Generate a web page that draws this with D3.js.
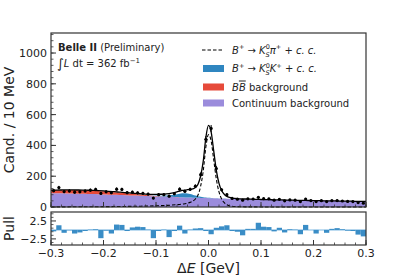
<!DOCTYPE html>
<html>
<head>
<meta charset="utf-8">
<script src="https://cdnjs.cloudflare.com/ajax/libs/d3/7.8.5/d3.min.js"></script>
<style>
  body { margin: 0; background: #fff; }
  text { font-family: "DejaVu Sans", sans-serif; fill: #222; }
</style>
</head>
<body>
<div id="chart"></div>
<script>
// bin centres (10 MeV bins) and data counts
var binCenters = [-0.295,-0.285,-0.275,-0.265,-0.255,-0.245,-0.235,-0.225,-0.215,-0.205,
  -0.195,-0.185,-0.175,-0.165,-0.155,-0.145,-0.135,-0.125,-0.115,-0.105,
  -0.095,-0.085,-0.075,-0.065,-0.055,-0.045,-0.035,-0.025,-0.015,-0.005,
  0.005,0.015,0.025,0.035,0.045,0.055,0.065,0.075,0.085,0.095,
  0.105,0.115,0.125,0.135,0.145,0.155,0.165,0.175,0.185,0.195,
  0.205,0.215,0.225,0.235,0.245,0.255,0.265,0.275,0.285,0.295];
var counts = [106,126,100,104,96,99,104,109,114,88,
  99,93,116,114,93,96,92,89,84,58,
  80,80,70,86,116,102,115,135,210,440,
  510,250,112,80,56,51,44,53,52,63,
  54,53,44,50,40,46,44,35,52,42,
  35,41,35,41,42,39,36,35,29,25];
var pulls = [-0.4,1.3,-0.8,-0.1,-1.0,-0.7,-0.3,0.1,0.2,-2.3,
  -0.2,-1.0,1.5,1.4,-0.3,0.7,0.9,0.8,0.1,-2.3,
  -0.3,0.1,-2.0,-0.3,1.2,-1.0,0.1,0.4,0.5,-0.3,
  -1.2,0.6,1.0,1.3,-0.3,-0.5,-1.5,0.3,0.3,2.0,
  0.9,0.8,-0.4,0.6,-0.7,0.2,0.1,-1.2,1.4,0.0,
  -1.0,0.0,-0.8,0.3,0.5,0.2,-0.2,-0.3,-1.3,-1.8];

// fit components sampled along Delta E
var curveX = [-0.30,-0.29,-0.28,-0.27,-0.26,-0.25,-0.24,-0.23,-0.22,-0.21,-0.20,-0.19,-0.18,-0.17,-0.16,-0.15,
  -0.14,-0.13,-0.12,-0.11,-0.10,-0.09,-0.08,-0.07,-0.06,-0.055,-0.05,-0.045,-0.04,-0.035,-0.03,-0.025,
  -0.02,-0.015,-0.01,-0.005,0,0.005,0.01,0.015,0.02,0.025,0.03,0.035,0.04,0.045,0.05,0.055,0.06,
  0.07,0.08,0.09,0.10,0.11,0.12,0.13,0.14,0.15,0.16,0.17,0.18,0.19,0.20,0.21,0.22,0.23,0.24,0.25,0.26,0.27,0.28,0.29,0.30];
var continuum = [90,89.5,89,88.3,87.6,86.8,86,85,84,82.8,81.5,80.3,79,77.8,76.5,75.2,
  74,72.7,71.4,70.1,68.8,67.6,66.4,65.2,64,63.4,62.8,62.2,61.7,61.1,60.5,60,
  59.4,58.9,58.3,57.8,57.3,56.8,56.3,55.8,55.3,54.8,54.3,53.8,53.4,52.9,52.5,52,51.6,
  50.8,50,49.2,48.4,47.6,46.9,46.2,45.5,44.8,44.1,43.4,42.8,42.1,41.5,40.9,40.3,39.7,39.1,38.6,38,37.5,37,36.5,36];
var bbBkg = [18,19.5,20.5,21.5,22,22.3,22.4,22.3,22,21.4,20.5,19.2,17.6,15.8,14,12,
  10,8.2,6.4,4.8,3.4,2.2,1.3,0.7,0.3,0.2,0.1,0,0,0,0,0,
  0,0,0,0,0,0,0,0,0,0,0,0,0,0,0,0,0,
  0,0,0,0,0,0,0,0,0,0,0,0,0,0,0,0,0,0,0,0,0,0,0,0];
var ksK = [0,0,0,0,0,0,0,0,0,0,0,0,0,0,0,0,
  0,0.2,0.5,1,2,4,7,12,19,23,26,27,26,23,19,14.5,
  10.5,7.5,5.2,3.6,2.5,1.7,1.1,0.7,0.4,0.2,0.1,0,0,0,0,0,0,
  0,0,0,0,0,0,0,0,0,0,0,0,0,0,0,0,0,0,0,0,0,0,0,0];
var ksPi = [0.8,0.9,1,1.1,1.2,1.3,1.5,1.6,1.8,2,2.2,2.5,2.8,3.1,3.5,4,
  4.5,5.1,5.8,6.7,7.8,9,10.5,12.5,15,16.5,18.5,21,24.5,30,38,52,
  78,135,235,390,470,430,305,180,98,52,28,15,8.5,5,3.2,2.2,1.6,
  1,0.7,0.5,0.4,0.3,0.3,0.2,0.2,0.2,0.1,0.1,0.1,0.1,0.1,0.1,0.1,0.1,0.1,0.1,0.1,0.1,0.1,0.1,0.1];

var yTicks = [0,200,400,600,800,1000];
var xTicks = [-0.3,-0.2,-0.1,0.0,0.1,0.2,0.3];
var pullTicks = [-2.5,2.5];

var width = 407, height = 280;
var left = 51, right = 366;
var mainTop = 33, mainBottom = 207;
var pullTop = 212, pullBottom = 245;

var colBlue = "#2f86c0", colRed = "#e64a3a", colPurple = "#9b8cdc";

var svg = d3.select("#chart").append("svg")
  .attr("width", width).attr("height", height);

var x = d3.scaleLinear().domain([-0.3, 0.3]).range([left, right]);
var y = d3.scaleLinear().domain([0, 1130]).range([mainBottom, mainTop]);
var yPull = d3.scaleLinear().domain([-4.2, 5]).range([pullBottom, pullTop]);

// stacked backgrounds
var rows = curveX.map(function(v, i) {
  return {x: v, cont: continuum[i], bb: bbBkg[i], kk: ksK[i], sig: ksPi[i]};
});
var stack = d3.stack().keys(["cont", "bb", "kk"]);
var layers = stack(rows);
var fills = {cont: colPurple, bb: colRed, kk: colBlue};

var area = d3.area()
  .curve(d3.curveMonotoneX)
  .x(function(d) { return x(d.data.x); })
  .y0(function(d) { return y(d[0]); })
  .y1(function(d) { return y(d[1]); });

svg.append("g").selectAll("path")
  .data(layers).enter()
  .append("path")
  .attr("d", area)
  .attr("fill", function(d) { return fills[d.key]; });

// total fit and signal
var line = d3.line().curve(d3.curveMonotoneX)
  .x(function(d) { return x(d.x); });

svg.append("path")
  .datum(rows)
  .attr("d", line.y(function(d) { return y(d.cont + d.bb + d.kk + d.sig); }))
  .attr("fill", "none").attr("stroke", "#000").attr("stroke-width", 1.3);

svg.append("path")
  .datum(rows)
  .attr("d", d3.line().curve(d3.curveMonotoneX)
    .x(function(d) { return x(d.x); })
    .y(function(d) { return y(d.sig); }))
  .attr("fill", "none").attr("stroke", "#000").attr("stroke-width", 1.1)
  .attr("stroke-dasharray", "3.5,2");

// data points with errors
var pts = svg.append("g");
pts.selectAll("line")
  .data(counts).enter()
  .append("line")
  .attr("x1", function(d, i) { return x(binCenters[i]); })
  .attr("x2", function(d, i) { return x(binCenters[i]); })
  .attr("y1", function(d) { return y(d + Math.sqrt(d)); })
  .attr("y2", function(d) { return y(d - Math.sqrt(d)); })
  .attr("stroke", "#000").attr("stroke-width", 1);
pts.selectAll("circle")
  .data(counts).enter()
  .append("circle")
  .attr("cx", function(d, i) { return x(binCenters[i]); })
  .attr("cy", function(d) { return y(d); })
  .attr("r", 1.6).attr("fill", "#000");

// pull panel
svg.append("line")
  .attr("x1", left).attr("x2", right)
  .attr("y1", yPull(0)).attr("y2", yPull(0))
  .attr("stroke", "#a8d0ec").attr("stroke-width", 1.5);

var binW = x(0.01) - x(0);
svg.append("g").selectAll("rect")
  .data(pulls).enter()
  .append("rect")
  .attr("x", function(d, i) { return x(binCenters[i]) - binW / 2; })
  .attr("width", binW)
  .attr("y", function(d) { return yPull(Math.max(d, 0)); })
  .attr("height", function(d) { return Math.abs(yPull(d) - yPull(0)); })
  .attr("fill", "#3a8dc6");

// axes, ticks pointing inward
function drawFrame(top, bottom) {
  svg.append("rect")
    .attr("x", left).attr("y", top)
    .attr("width", right - left).attr("height", bottom - top)
    .attr("fill", "none").attr("stroke", "#333").attr("stroke-width", 1.2);
}
drawFrame(mainTop, mainBottom);
drawFrame(pullTop, pullBottom);

function xTickMarks(yBase) {
  var g = svg.append("g");
  g.selectAll(".minor").data(d3.range(-0.3, 0.3001, 0.02)).enter()
    .append("line")
    .attr("x1", function(d) { return x(d); }).attr("x2", function(d) { return x(d); })
    .attr("y1", yBase).attr("y2", yBase - 2.5)
    .attr("stroke", "#333").attr("stroke-width", 0.8);
  g.selectAll(".major").data(xTicks).enter()
    .append("line")
    .attr("x1", function(d) { return x(d); }).attr("x2", function(d) { return x(d); })
    .attr("y1", yBase).attr("y2", yBase - 5)
    .attr("stroke", "#333").attr("stroke-width", 1);
}
xTickMarks(mainBottom);
xTickMarks(pullBottom);

var fmtX = function(d) { return d3.format(".1f")(d).replace("-", "\u2212"); };
svg.append("g").selectAll("text")
  .data(xTicks).enter()
  .append("text")
  .attr("x", function(d) { return x(d); })
  .attr("y", pullBottom + 12)
  .attr("text-anchor", "middle")
  .attr("font-size", 11)
  .text(fmtX);

// main y axis
var gy = svg.append("g");
gy.selectAll(".minor").data(d3.range(0, 1130, 40)).enter()
  .append("line")
  .attr("x1", left).attr("x2", left + 2.5)
  .attr("y1", function(d) { return y(d); }).attr("y2", function(d) { return y(d); })
  .attr("stroke", "#333").attr("stroke-width", 0.8);
gy.selectAll(".major").data(yTicks).enter()
  .append("line")
  .attr("x1", left).attr("x2", left + 5)
  .attr("y1", function(d) { return y(d); }).attr("y2", function(d) { return y(d); })
  .attr("stroke", "#333").attr("stroke-width", 1);
gy.selectAll("text").data(yTicks).enter()
  .append("text")
  .attr("x", left - 4)
  .attr("y", function(d) { return y(d) + 4; })
  .attr("text-anchor", "end")
  .attr("font-size", 11)
  .text(function(d) { return d; });

// pull y axis
var gp = svg.append("g");
gp.selectAll(".minor").data([-3.5,-1.5,-0.5,0.5,1.5,3.5,4.5]).enter()
  .append("line")
  .attr("x1", left).attr("x2", left + 2.5)
  .attr("y1", function(d) { return yPull(d); }).attr("y2", function(d) { return yPull(d); })
  .attr("stroke", "#333").attr("stroke-width", 0.8);
gp.selectAll(".major").data(pullTicks).enter()
  .append("line")
  .attr("x1", left).attr("x2", left + 5)
  .attr("y1", function(d) { return yPull(d); }).attr("y2", function(d) { return yPull(d); })
  .attr("stroke", "#333").attr("stroke-width", 1);
gp.selectAll("text").data(pullTicks).enter()
  .append("text")
  .attr("x", left - 4)
  .attr("y", function(d) { return yPull(d) + 4; })
  .attr("text-anchor", "end")
  .attr("font-size", 11)
  .text(function(d) { return String(d).replace("-", "\u2212"); });

// axis titles
svg.append("text")
  .attr("transform", "translate(14," + ((mainTop + mainBottom) / 2) + ")rotate(-90)")
  .attr("text-anchor", "middle")
  .attr("font-size", 14)
  .text("Cand. / 10 MeV");
svg.append("text")
  .attr("transform", "translate(14," + ((pullTop + pullBottom) / 2) + ")rotate(-90)")
  .attr("text-anchor", "middle")
  .attr("font-size", 14)
  .text("Pull");
var xl = svg.append("text")
  .attr("x", (left + right) / 2)
  .attr("y", 273)
  .attr("text-anchor", "middle")
  .attr("font-size", 14);
xl.append("tspan").text("\u0394");
xl.append("tspan").attr("font-style", "italic").text("E");
xl.append("tspan").text(" [GeV]");

// mathtext-ish helper: parts of [text, kind]
function mathText(t, parts, size) {
  var shift = 0;
  parts.forEach(function(p) {
    var s = t.append("tspan").text(p[0]);
    var kind = p[1] || "";
    var target = 0;
    if (kind.indexOf("sup") >= 0) target = -size * 0.45;
    if (kind.indexOf("sub") >= 0) target = size * 0.3;
    if (target !== shift) { s.attr("dy", target - shift); shift = target; }
    if (kind.indexOf("sup") >= 0 || kind.indexOf("sub") >= 0) s.attr("font-size", size * 0.65);
    if (kind.indexOf("i") === 0 || kind.indexOf("-i") >= 0) s.attr("font-style", "italic");
    if (kind.indexOf("back") >= 0) s.attr("dx", -size * 0.42);
    if (kind.indexOf("over") >= 0) s.attr("text-decoration", "overline");
  });
}

// Belle II label
var t1 = svg.append("text").attr("x", 58).attr("y", 51).attr("font-size", 10);
t1.append("tspan").attr("font-weight", "bold").text("Belle II");
t1.append("tspan").text(" (Preliminary)");
var t2 = svg.append("text").attr("x", 57).attr("y", 67).attr("font-size", 10);
t2.append("tspan").attr("font-size", 13).attr("dy", 1).text("\u222B");
t2.append("tspan").attr("font-style", "italic").attr("dy", -1).text("L");
t2.append("tspan").text(" dt = 362 fb");
t2.append("tspan").attr("font-size", 7).attr("dy", -4).text("\u22121");

// legend
var legY = [50, 68.5, 87, 103];
var lg = svg.append("g");
lg.append("line")
  .attr("x1", 202).attr("x2", 224)
  .attr("y1", legY[0]).attr("y2", legY[0])
  .attr("stroke", "#000").attr("stroke-width", 1.1)
  .attr("stroke-dasharray", "3.5,2");
[colBlue, colRed, colPurple].forEach(function(c, i) {
  lg.append("rect")
    .attr("x", 203).attr("y", legY[i + 1] - 3.5)
    .attr("width", 21).attr("height", 7)
    .attr("fill", c);
});
var fs = 10;
var l1 = lg.append("text").attr("x", 232).attr("y", legY[0] + 3.5).attr("font-size", fs);
mathText(l1, [["B", "i"], ["+", "sup"], [" \u2192 ", ""], ["K", "i"], ["0", "sup"], ["S", "sub-i-back"],
  ["\u03C0", "i"], ["+", "sup"], [" + ", ""], ["c. c.", "i"]], fs);
var l2 = lg.append("text").attr("x", 232).attr("y", legY[1] + 3.5).attr("font-size", fs);
mathText(l2, [["B", "i"], ["+", "sup"], [" \u2192 ", ""], ["K", "i"], ["0", "sup"], ["S", "sub-i-back"],
  ["K", "i"], ["+", "sup"], [" + ", ""], ["c. c.", "i"]], fs);
var l3 = lg.append("text").attr("x", 232).attr("y", legY[2] + 3.5).attr("font-size", fs);
mathText(l3, [["B", "i"], ["B", "i-over"], [" background", ""]], fs);
lg.append("text").attr("x", 232).attr("y", legY[3] + 3.5).attr("font-size", fs)
  .text("Continuum background");
</script>
</body>
</html>
